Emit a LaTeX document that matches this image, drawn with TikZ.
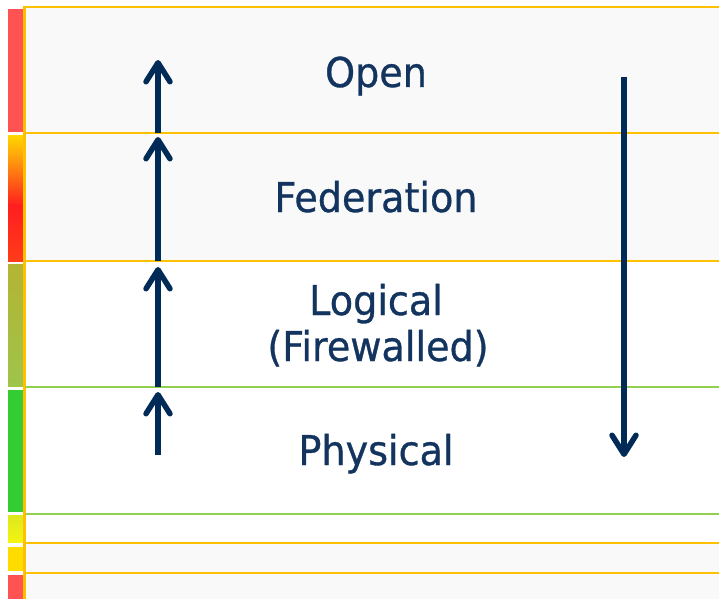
\documentclass[tikz,border=0pt]{standalone}
\usepackage{fontspec}
\setmainfont{DejaVu Sans}[FakeStretch=0.93,FakeBold=0.8]
\usetikzlibrary{arrows.meta}
\definecolor{lorange}{HTML}{FFC000}
\definecolor{lgreen}{HTML}{92D050}
\definecolor{navy}{HTML}{002B57}
\definecolor{txt}{HTML}{12345F}
\definecolor{bandgrey}{HTML}{F9F9F9}
\definecolor{barred}{HTML}{FF5252}
\definecolor{bargreen}{HTML}{33CC33}
\definecolor{gradyellow}{HTML}{FFD800}
\definecolor{gradamber}{HTML}{FF8A10}
\definecolor{gradred}{HTML}{FF1E1E}
\definecolor{gradorange}{HTML}{FF3C1A}
\definecolor{olivetop}{HTML}{B4B434}
\definecolor{olivebot}{HTML}{9EC44A}
\definecolor{ylgtop}{HTML}{DCE81E}
\definecolor{ylgbot}{HTML}{F4F410}
\definecolor{gold}{HTML}{FFDC00}
\begin{document}
\begin{tikzpicture}[x=1pt,y=-1pt,
  orangeline/.style={draw=lorange,line width=2.5pt},
  greenline/.style={draw=lgreen,line width=2.2pt},
  upflow/.style={draw=navy,line width=5.5pt,-{Straight Barb[length=19pt,width=24pt,round]}},
  label/.style={text=txt,font=\fontsize{41}{46}\selectfont,anchor=base,inner sep=0pt}]
\useasboundingbox (0,0) rectangle (719,599);
\fill[white] (0,0) rectangle (719,599);
% bands
\fill[bandgrey] (24,7) rectangle (719,133);
\fill[bandgrey] (24,133) rectangle (719,261);
\fill[bandgrey] (24,543) rectangle (719,599);
% left colour bar
\fill[barred] (8,9) rectangle (23,132);
\shade[top color=gradyellow, bottom color=gradamber] (8,135) rectangle (23,166);
\shade[top color=gradamber, bottom color=gradred] (8,165.5) rectangle (23,206);
\shade[top color=gradred, bottom color=gradorange] (8,205.5) rectangle (23,261);
\shade[top color=olivetop, bottom color=olivebot] (8,264) rectangle (23,386);
\fill[bargreen] (8,390) rectangle (23,512);
\shade[top color=ylgtop, bottom color=ylgbot] (8,515) rectangle (23,542);
\fill[gold] (8,547) rectangle (23,571);
\fill[barred] (8,575) rectangle (23,599);
% rules
\draw[orangeline] (24,7) -- (719,7);
\draw[orangeline] (24,133) -- (719,133);
\draw[orangeline] (24,261) -- (719,261);
\draw[greenline] (24,387) -- (719,387);
\draw[greenline] (24,514) -- (719,514);
\draw[orangeline] (24,543) -- (719,543);
\draw[orangeline] (24,573) -- (719,573);
\draw[orangeline] (24.5,6) -- (24.5,599);
% arrows
\coordinate (a0) at (158,455);
\coordinate (a1) at (158,392);
\coordinate (b0) at (158,387);
\coordinate (b1) at (158,267);
\coordinate (c0) at (158,261);
\coordinate (c1) at (158,137);
\coordinate (d0) at (158,133);
\coordinate (d1) at (158,60);
\coordinate (e0) at (624,77);
\coordinate (e1) at (624,457);
\draw[upflow] (a0) -- (a1);
\draw[upflow] (b0) -- (b1);
\draw[upflow] (c0) -- (c1);
\draw[upflow] (d0) -- (d1);
\draw[upflow] (e0) -- (e1);
% labels
\node[label] (open) at (376,87) {Open};
\node[label] (fed) at (376,212) {Federation};
\node[label] (log) at (376,315) {Logical};
\node[label] (fw) at (378,361) {(Firewalled)};
\node[label] (phys) at (376,465) {Physical};
\end{tikzpicture}
\end{document}
